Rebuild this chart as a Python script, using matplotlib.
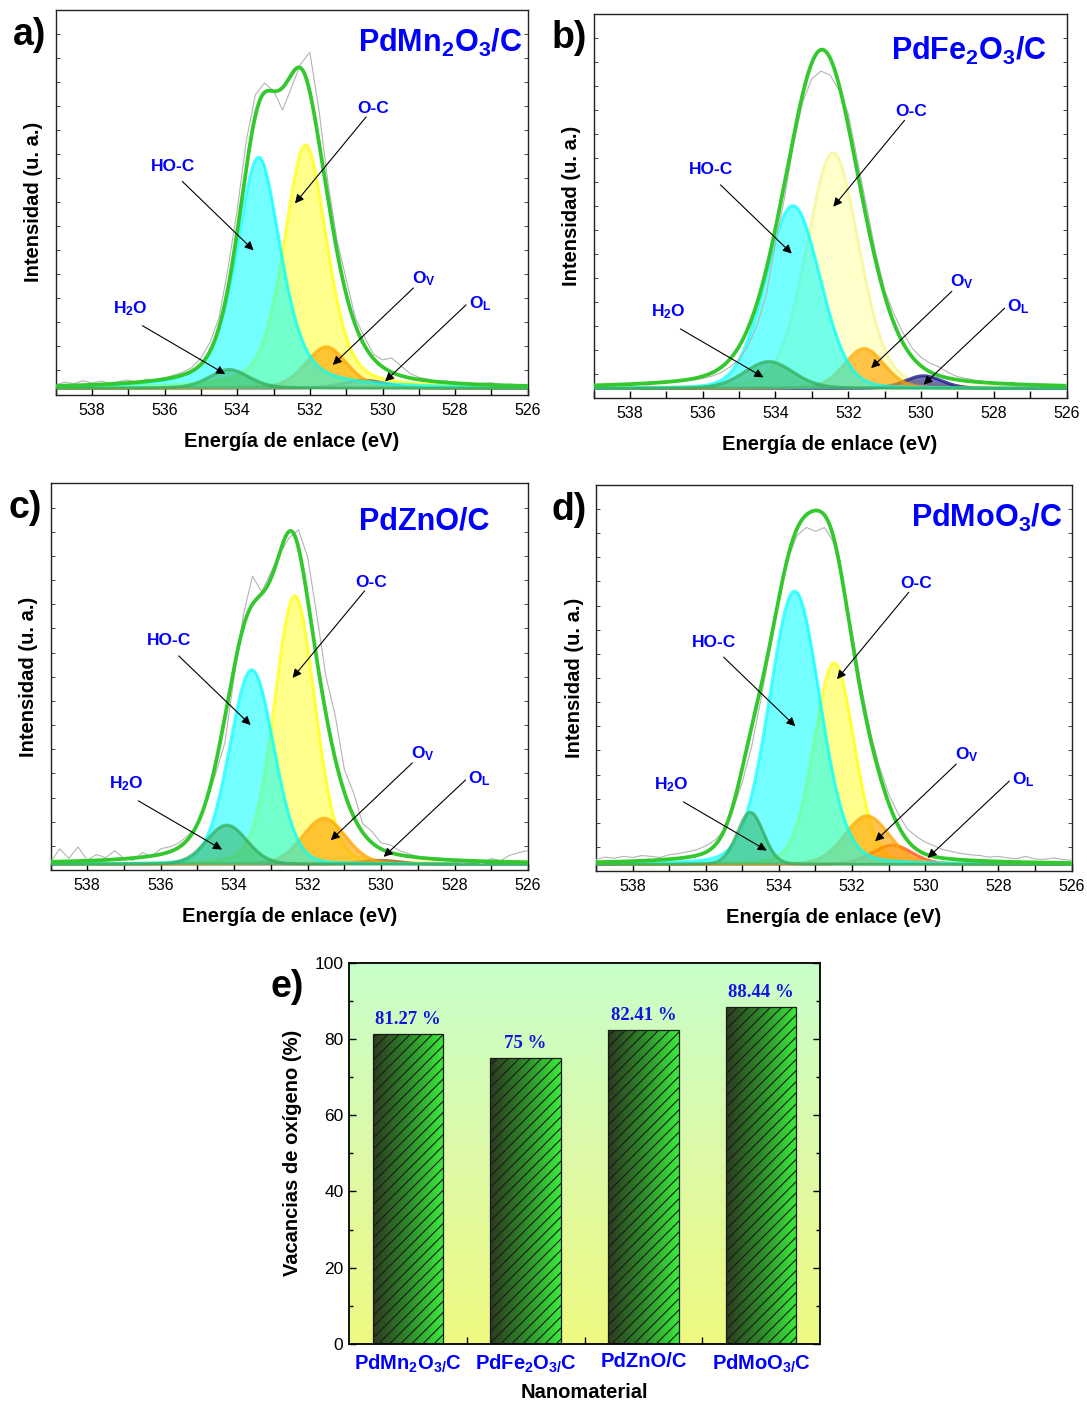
import numpy as np
import matplotlib
matplotlib.use('Agg')
import matplotlib.pyplot as plt
from matplotlib.colors import LinearSegmentedColormap
from matplotlib.ticker import MultipleLocator, FixedLocator

plt.rcParams['font.family'] = ['Liberation Sans', 'DejaVu Sans']
plt.rcParams['mathtext.fontset'] = 'custom'
plt.rcParams['mathtext.rm'] = 'Liberation Sans:bold'
plt.rcParams['mathtext.bf'] = 'Liberation Sans:bold'
plt.rcParams['mathtext.it'] = 'Liberation Sans:bold'
plt.rcParams['mathtext.sf'] = 'Liberation Sans:bold'
plt.rcParams['mathtext.default'] = 'bf'
plt.rcParams['hatch.linewidth'] = 0.8

# ---------------- data ----------------
component_names = ['HO-C', 'O-C', 'H$_2$O', 'O$_V$', 'O$_L$']
panel_titles = ['PdMn$_2$O$_3$/C', 'PdFe$_2$O$_3$/C', 'PdZnO/C', 'PdMoO$_3$/C']
panel_letters = ['a)', 'b)', 'c)', 'd)']

# fitted components (order: HO-C, O-C, H2O, Ov, OL): centre (eV), height, FWHM (eV), Lorentz fraction
a_center = [533.41, 532.12, 534.22, 531.55, 530.50]
a_height = [60.1, 63.3, 4.9, 10.8, 2.1]
a_fwhm = [1.45, 1.40, 1.30, 1.35, 1.40]
a_eta = [0.5, 0.4, 0.3, 0.3, 0.3]
b_center = [533.52, 532.42, 534.18, 531.56, 529.93]
b_height = [47.6, 61.3, 7.0, 10.4, 3.3]
b_fwhm = [1.77, 1.70, 1.60, 1.30, 1.20]
b_eta = [0.1, 0.2, 0.2, 0.2, 0.2]
c_center = [533.52, 532.35, 534.20, 531.55, 530.00]
c_height = [50.3, 69.4, 10.1, 11.9, 1.0]
c_fwhm = [1.42, 1.30, 1.30, 1.40, 1.20]
c_eta = [0.1, 0.15, 0.1, 0.15, 0.1]
d_center = [533.57, 532.49, 534.78, 531.59, 530.90]
d_height = [70.8, 52.2, 13.5, 12.6, 5.0]
d_fwhm = [1.64, 1.30, 0.85, 1.45, 1.30]
d_eta = [0.15, 0.15, 0.1, 0.15, 0.2]
baselines = [1.6, 2.4, 1.5, 1.7]

# envelope (fitted sum) peaks
a_env_center = [533.40, 532.20, 531.40]
a_env_height = [62.0, 65.0, 14.0]
a_env_fwhm = [1.40, 1.40, 1.60]
a_env_eta = [0.35, 0.35, 0.5]
b_env_center = [532.72]
b_env_height = [88.2]
b_env_fwhm = [2.45]
b_env_eta = [0.25]
c_env_center = [533.60, 532.40, 531.60]
c_env_height = [57.0, 63.0, 20.0]
c_env_fwhm = [1.60, 1.25, 1.50]
c_env_eta = [0.3, 0.3, 0.4]
d_env_center = [533.60, 532.50, 534.80, 531.50]
d_env_height = [73.0, 54.0, 10.0, 15.0]
d_env_fwhm = [1.80, 1.40, 1.00, 1.40]
d_env_eta = [0.2, 0.2, 0.2, 0.2]

# experimental spectra, 539.0 -> 526.0 eV every 0.25 eV
raw_energy = np.linspace(539.0, 526.0, 53)
a_raw = [2.5, 3.2, 2.8, 3.6, 3.0, 3.5, 2.9, 3.4, 3.8, 3.1, 4.0, 3.7, 4.3, 5.0, 5.8, 7.0,
         9.5, 13.5, 20, 33, 48, 66, 78, 81, 79, 74, 80, 86, 89, 74, 55, 40, 30, 20, 15,
         10.5, 9.0, 9.5, 7.5, 5.5, 4.5, 4.0, 3.2, 3.6, 2.8, 3.0, 2.4, 2.9, 3.1, 2.5, 2.7, 2.3, 2.5]
b_raw = [3.0, 3.3, 3.0, 3.4, 3.2, 3.6, 3.3, 3.8, 3.9, 4.2, 4.5, 4.6, 5.0, 5.6, 6.5, 8.0,
         10.0, 13.5, 19, 27, 40, 52, 66, 77, 83, 85, 84, 80, 74, 62, 50, 38, 28, 22, 17,
         13, 10.5, 9, 8, 6.5, 5.5, 5.0, 4.5, 4.2, 4.0, 3.6, 4.0, 3.2, 3.0, 2.8, 3.3, 2.9, 3.0]
c_raw = [2.0, 5.5, 3.0, 6.0, 2.5, 4.0, 3.2, 5.0, 3.0, 2.5, 4.5, 3.5, 5.5, 6.0, 7.0, 9.0,
         11.5, 18, 25, 33, 50, 66, 76, 72, 77, 82, 86, 88, 81, 66, 50, 40, 26, 20, 12,
         10, 7, 6.5, 5.0, 4.2, 3.5, 3.0, 2.5, 3.0, 2.2, 1.8, 2.5, 1.6, 3.0, 2.4, 3.8, 4.5, 5.0]
d_raw = [3.0, 3.6, 3.3, 3.8, 3.5, 4.0, 3.8, 3.5, 4.2, 4.5, 5.0, 5.5, 6.5, 8.0, 10.5, 16,
         23, 32, 44, 57, 70, 81, 87, 89, 88, 89, 85, 74, 62, 48, 36, 27, 20, 15, 11,
         9, 7.5, 6.5, 5.5, 5.0, 4.5, 4.2, 4.0, 3.6, 3.8, 3.4, 3.2, 3.8, 3.1, 3.0, 3.4, 3.0, 2.8]

# label / arrow positions (eV, intensity) shared by panels
label_pos = [(535.78, 58.1), (530.26, 73.2), (536.93, 21.1), (528.87, 28.9), (527.32, 22.5)]
arrow_tail = [(535.51, 55.4), (530.45, 72.2), (536.61, 17.9), (529.15, 27.7), (527.70, 23.3)]
arrow_head = [(533.55, 37.5), (532.41, 49.7), (534.33, 5.3), (531.37, 7.7), (529.93, 3.4)]
title_pos = [(526.15, 89.0), (526.55, 87.8), (527.05, 88.0), (526.26, 89.2)]

# bar chart
materials = ['PdMn$_2$O$_{3/}$C', 'PdFe$_2$O$_{3/}$C', 'PdZnO/C', 'PdMoO$_{3/}$C']
vacancies = [81.27, 75.0, 82.41, 88.44]
vacancy_labels = ['81.27 %', '75 %', '82.41 %', '88.44 %']

# ---------------- styles ----------------
W, H = 1087, 1403
fig = plt.figure(figsize=(W / 100, H / 100), dpi=100)

def frac_rect(l, t, r, b):
    return [l / W, 1 - b / H, (r - l) / W, (b - t) / H]

panel_rects = [(55.6, 10, 527.8, 394.5), (593.5, 13.5, 1066.5, 397.7),
               (50.5, 483.5, 528.0, 870), (596.0, 485, 1071.5, 871)]
letter_pos = [(30, 35), (569, 38), (25, 508), (569, 510)]

comp_face = ['#00FFFF', '#FFFF00', '#32A852', '#FFA500', None]
comp_alpha = [0.55, 0.45, 0.5, 0.65, None]
ol_colors = ['#7A5230', '#000080', '#7A5230', '#FF4500']
ol_alpha = [0.35, 0.55, 0.2, 0.4]
draw_order = [1, 4, 3, 0, 2]
zorders = {1: 2.0, 4: 2.2, 3: 2.4, 0: 2.6, 2: 2.8}

def pv(x, c, h, w, eta):
    d2 = 4.0 * (x - c) ** 2 / w ** 2
    return h * (eta / (1 + d2) + (1 - eta) * np.exp(-np.log(2) * d2))

centers = [a_center, b_center, c_center, d_center]
heights = [a_height, b_height, c_height, d_height]
fwhms = [a_fwhm, b_fwhm, c_fwhm, d_fwhm]
etas = [a_eta, b_eta, c_eta, d_eta]
env_c = [a_env_center, b_env_center, c_env_center, d_env_center]
env_h = [a_env_height, b_env_height, c_env_height, d_env_height]
env_w = [a_env_fwhm, b_env_fwhm, c_env_fwhm, d_env_fwhm]
env_e = [a_env_eta, b_env_eta, c_env_eta, d_env_eta]
raws = [a_raw, b_raw, c_raw, d_raw]

xs = np.linspace(539.0, 526.0, 900)
blue = '#0000FF'

for p in range(4):
    ax = fig.add_axes(frac_rect(*panel_rects[p]))
    base = baselines[p]
    ax.plot(raw_energy, raws[p], color='#B4B4B4', lw=0.8, zorder=3)
    for k in draw_order:
        y = pv(xs, centers[p][k], heights[p][k], fwhms[p][k], etas[p][k])
        if k == 4:
            fc, al = ol_colors[p], ol_alpha[p]
        else:
            fc, al = comp_face[k], comp_alpha[k]
            if p == 1 and k == 1:
                al = 0.2
        ax.fill_between(xs, base, base + y, color=fc, alpha=al, lw=0, zorder=zorders[k])
        ec = fc if not (p == 1 and k == 1) else '#F5F590'
        ax.plot(xs, base + y, color=ec, lw=2.2, alpha=0.7, zorder=zorders[k] + 0.05)
    env = np.zeros_like(xs)
    for c, h, w, e in zip(env_c[p], env_h[p], env_w[p], env_e[p]):
        env += pv(xs, c, h, w, e)
    ax.plot(xs, base + env, color='#33C82D', lw=2.7, zorder=4, solid_capstyle='butt')

    for k in range(5):
        ax.text(*label_pos[k], component_names[k], color=blue, fontsize=12.5,
                fontweight='bold', ha='center', va='baseline', zorder=6)
        ax.annotate('', xy=arrow_head[k], xytext=arrow_tail[k],
                    arrowprops=dict(arrowstyle='-|>', color='black', lw=0.8,
                                    mutation_scale=13, shrinkA=0, shrinkB=0), zorder=6)
    ax.text(*title_pos[p], panel_titles[p], color=blue, fontsize=22, fontweight='bold',
            ha='right', va='baseline', zorder=6)

    ax.set_xlim(539.0, 526.0)
    ax.set_ylim(0, 100)
    ax.xaxis.set_major_locator(MultipleLocator(2))
    ax.xaxis.set_minor_locator(MultipleLocator(1))
    ax.yaxis.set_major_locator(MultipleLocator(6.25))
    ax.tick_params(axis='x', which='both', direction='in', length=5, width=1.0,
                   top=False, labelsize=11.5, pad=6)
    ax.tick_params(axis='y', which='both', direction='in', length=3, width=0.7,
                   left=True, right=True, labelleft=False, color='#444444')
    for s in ax.spines.values():
        s.set_linewidth(1.0)
        s.set_color('#222222')
    ax.set_xlabel('Energía de enlace (eV)', fontsize=14.5, fontweight='bold', labelpad=10)
    ax.set_ylabel('Intensidad (u. a.)', fontsize=14.5, fontweight='bold', labelpad=9)
    lx, ly = letter_pos[p]
    fig.text(lx / W, 1 - ly / H, panel_letters[p], fontsize=27, fontweight='bold',
             ha='center', va='center')

# ---------------- panel e ----------------
axe = fig.add_axes(frac_rect(349, 962.5, 820, 1344))
xpos = np.arange(len(materials))
bg_cmap = LinearSegmentedColormap.from_list('bg', ['#EEFA80', '#DDF9A8', '#C8FFCA'])
axe.imshow(np.linspace(0, 1, 256).reshape(-1, 1), extent=[-0.5, 3.5, 0, 100],
           origin='lower', cmap=bg_cmap, aspect='auto', zorder=0)
bar_cmap = LinearSegmentedColormap.from_list('bar', ['#2B3A1E', '#2E8A2A', '#3CEB3C'])
bars = axe.bar(xpos, vacancies, width=0.6, facecolor='none', edgecolor='#1A1A1A',
               hatch='///', lw=0.9, zorder=3)
for rect in bars:
    x0, y0 = rect.get_x(), rect.get_y()
    w, h = rect.get_width(), rect.get_height()
    im = axe.imshow(np.linspace(0, 1, 256).reshape(1, -1), extent=[x0, x0 + w, y0, y0 + h],
                    cmap=bar_cmap, aspect='auto', zorder=2)
    im.set_clip_path(rect)
for xp, v, lab in zip(xpos, vacancies, vacancy_labels):
    axe.text(xp, v + 3.8, lab, family=['Liberation Serif', 'DejaVu Serif'], fontweight='bold',
             fontsize=13.5, color='#1414E0', ha='center', va='center', zorder=5)
axe.set_xlim(-0.5, 3.5)
axe.set_ylim(0, 100)
axe.set_xticks(xpos)
axe.set_xticklabels(materials, color=blue, fontsize=14.5, fontweight='bold')
axe.xaxis.set_minor_locator(FixedLocator([0.5, 1.5, 2.5]))
axe.yaxis.set_major_locator(MultipleLocator(20))
axe.yaxis.set_minor_locator(MultipleLocator(10))
axe.tick_params(axis='x', which='both', direction='in', length=5, width=1.0, pad=6)
axe.tick_params(axis='y', which='both', direction='in', length=5, width=1.0,
                left=True, right=True, labelsize=12.5, pad=4)
axe.tick_params(axis='y', which='minor', length=3)
for s in axe.spines.values():
    s.set_linewidth(1.3)
axe.set_xlabel('Nanomaterial', fontsize=14.5, fontweight='bold', labelpad=6)
axe.set_ylabel('Vacancias de oxígeno (%)', fontsize=14.5, fontweight='bold', labelpad=9)
fig.text(287 / W, 1 - 987 / H, 'e)', fontsize=27, fontweight='bold', ha='center', va='center')

fig.savefig('out.png', dpi=100)
